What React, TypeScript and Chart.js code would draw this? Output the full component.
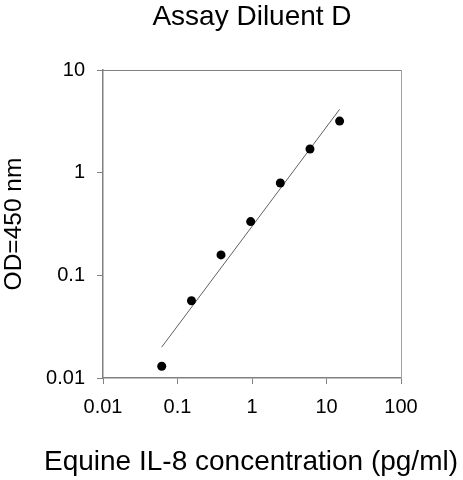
import React, { useEffect, useRef } from "react";
import { Chart, registerables } from "chart.js";

Chart.register(...registerables);

const titleText = "Assay Diluent D";
const xTitle = "Equine IL-8 concentration (pg/ml)";
const yTitle = "OD=450 nm";

const concentration = [0.0614, 0.154, 0.384, 0.96, 2.4, 6, 15];
const odValues = [0.013, 0.0565, 0.158, 0.334, 0.794, 1.7, 3.18];

const fitX = [0.0614, 15];
const fitY = [0.02, 4.14];

const xTicks = [0.01, 0.1, 1, 10, 100];
const yTicks = [0.01, 0.1, 1, 10];

const FONT = "'Liberation Sans', Arial, sans-serif";
const AXIS_COLOR = "#808080";

const framePlugin = {
  id: "frame",
  afterDraw(chart: any) {
    const { ctx, chartArea } = chart;
    ctx.save();
    ctx.strokeStyle = AXIS_COLOR;
    ctx.lineWidth = 1;
    ctx.beginPath();
    ctx.moveTo(chartArea.left, chartArea.top + 0.5);
    ctx.lineTo(chartArea.right, chartArea.top + 0.5);
    ctx.stroke();
    ctx.strokeStyle = "#a0a0a0";
    ctx.beginPath();
    ctx.moveTo(chartArea.right + 0.5, chartArea.top);
    ctx.lineTo(chartArea.right + 0.5, chartArea.bottom);
    ctx.stroke();
    // x axis title (drawn without Chart.js's width clamp)
    ctx.fillStyle = "#000";
    ctx.font = `28px ${FONT}`;
    ctx.textAlign = "center";
    ctx.textBaseline = "alphabetic";
    ctx.fillText(xTitle, (chartArea.left + chartArea.right) / 2 - 1, 470);
    ctx.restore();
  },
};

export default function App() {
  const canvasRef = useRef<HTMLCanvasElement | null>(null);

  useEffect(() => {
    if (!canvasRef.current) return;
    const points = concentration.map((x, i) => ({ x, y: odValues[i] }));
    const fit = fitX.map((x, i) => ({ x, y: fitY[i] }));
    const chart = new Chart(canvasRef.current, {
      type: "scatter",
      data: {
        datasets: [
          {
            label: "fit",
            data: fit,
            showLine: true,
            borderColor: "#606060",
            borderWidth: 1,
            pointRadius: 0,
            order: 2,
          },
          {
            label: "data",
            data: points,
            pointRadius: 4.5,
            pointBackgroundColor: "#000",
            pointBorderWidth: 0,
            order: 1,
          },
        ],
      },
      options: {
        animation: false,
        responsive: false,
        layout: { padding: { top: 0, right: 62, bottom: 0, left: 0 } },
        plugins: {
          legend: { display: false },
          tooltip: { enabled: false },
          title: {
            display: true,
            text: titleText,
            fullSize: false,
            color: "#000",
            font: { family: FONT, size: 28, weight: "normal" },
            padding: { top: 0.5, bottom: 35.9 },
          },
        },
        scales: {
          x: {
            type: "logarithmic",
            position: "bottom",
            min: 0.01,
            max: 100,
            afterBuildTicks: (s: any) => {
              s.ticks = xTicks.map((v) => ({ value: v }));
            },
            afterFit: (s: any) => {
              s.height = 102;
            },
            grid: {
              drawOnChartArea: false,
              drawTicks: true,
              tickLength: 6,
              color: AXIS_COLOR,
            },
            border: { color: AXIS_COLOR, width: 1.5 },
            ticks: {
              color: "#000",
              font: { family: FONT, size: 20 },
              padding: 11,
              maxRotation: 0,
              autoSkip: false,
              callback: (v: any) => String(v),
            },
            title: { display: false },
          },
          y: {
            type: "logarithmic",
            min: 0.01,
            max: 10,
            afterBuildTicks: (s: any) => {
              s.ticks = yTicks.map((v) => ({ value: v }));
            },
            afterFit: (s: any) => {
              s.width = 103;
            },
            grid: {
              drawOnChartArea: false,
              drawTicks: true,
              tickLength: 6,
              color: AXIS_COLOR,
            },
            border: { color: AXIS_COLOR, width: 1.5 },
            ticks: {
              color: "#000",
              font: { family: FONT, size: 20 },
              padding: 12,
              autoSkip: false,
              callback: (v: any) => String(v),
            },
            title: {
              display: true,
              text: yTitle,
              color: "#000",
              font: { family: FONT, size: 24.5 },
              padding: { top: 0, bottom: 2 },
            },
          },
        },
      },
      plugins: [framePlugin],
    });
    return () => chart.destroy();
  }, []);

  return (
    <div style={{ position: "absolute", left: 0, top: 0, width: 463, height: 480, background: "#fff" }}>
      <canvas ref={canvasRef} width={463} height={480} />
    </div>
  );
}
